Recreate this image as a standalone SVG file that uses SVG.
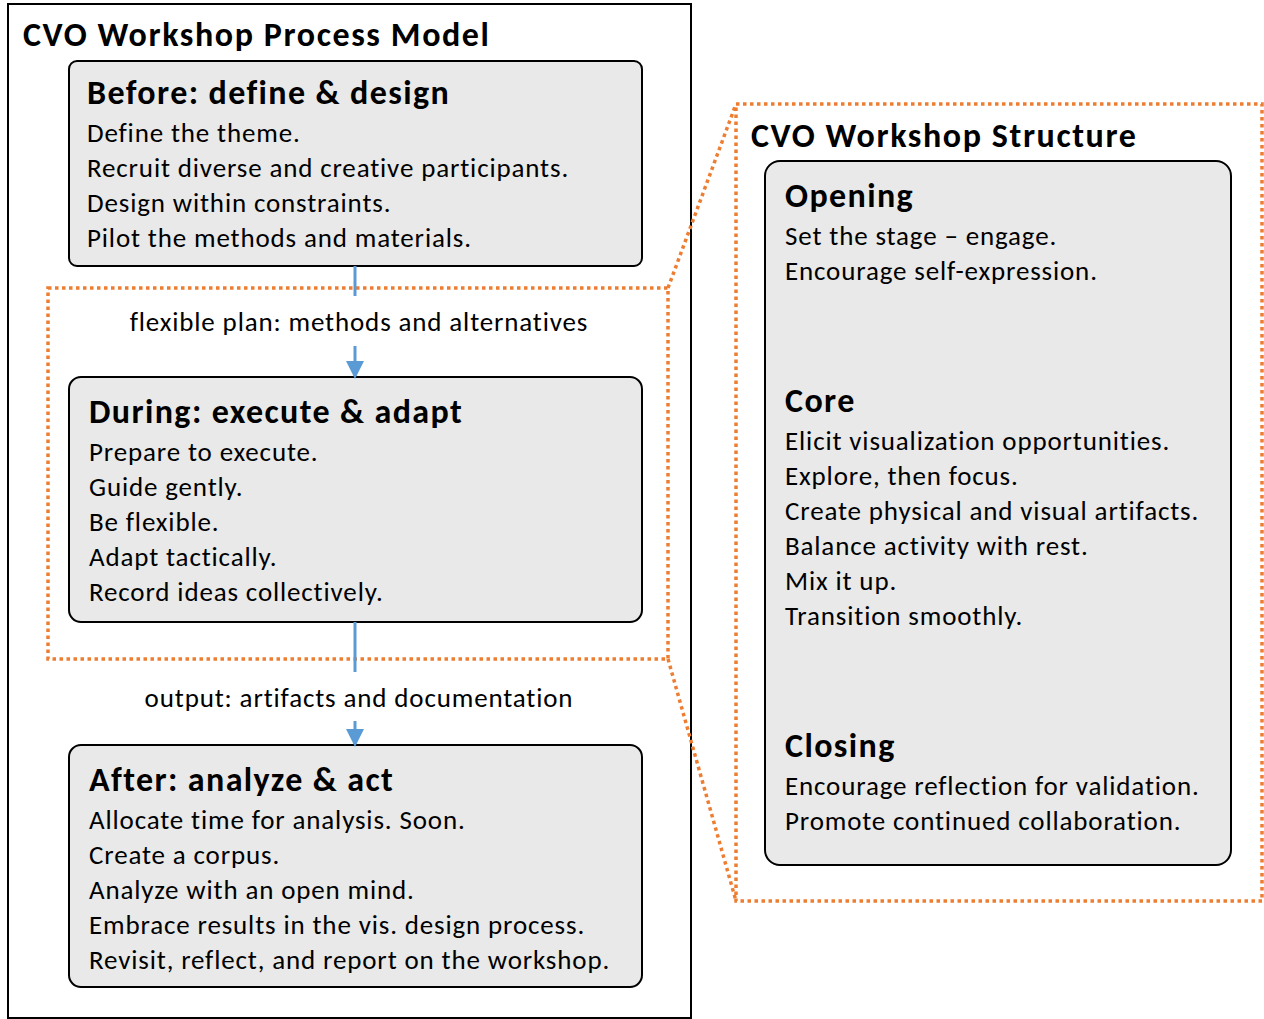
<svg xmlns="http://www.w3.org/2000/svg" width="1264" height="1019" viewBox="0 0 1264 1019">
<defs>
<style>
text{font-family:Carlito,Lato,"Open Sans",sans-serif;fill:#000}
.t{font-size:34px;font-weight:bold;letter-spacing:1.6px}
.h{font-size:34px;font-weight:bold;letter-spacing:1.4px}
.b{font-size:27px;letter-spacing:0.85px}
.l{font-size:27px;letter-spacing:0.85px;text-anchor:middle}
.box{fill:#e9e9e9;stroke:#000;stroke-width:2}
.dot{fill:none;stroke:#ed7d31;stroke-width:3.5;stroke-dasharray:3.5 3.5}
.con{stroke:#5b9bd5;stroke-width:3;fill:none}
</style>
<marker id="ah" markerWidth="6" markerHeight="6" refX="5" refY="3" orient="auto" markerUnits="strokeWidth"><path d="M0,0 L6,3 L0,6 z" fill="#5b9bd5"/></marker>
</defs>
<rect width="1264" height="1019" fill="#fff"/>
<g id="process-model">
<rect x="8" y="4" width="683" height="1014" fill="none" stroke="#000" stroke-width="2"/>
<text class="t" x="23" y="46">CVO Workshop Process Model</text>
</g>
<g id="before">
<rect class="box" x="69" y="61" width="573" height="205" rx="8"/>
<text class="h" x="87" y="104">Before: define &amp; design</text>
<text class="b" x="87" y="142">Define the theme.</text>
<text class="b" x="87" y="177">Recruit diverse and creative participants.</text>
<text class="b" x="87" y="212">Design within constraints.</text>
<text class="b" x="87" y="247">Pilot the methods and materials.</text>
</g>
<g id="during">
<rect class="box" x="69" y="377" width="573" height="245" rx="12"/>
<text class="h" x="89" y="423">During: execute &amp; adapt</text>
<text class="b" x="89" y="461">Prepare to execute.</text>
<text class="b" x="89" y="496">Guide gently.</text>
<text class="b" x="89" y="531">Be flexible.</text>
<text class="b" x="89" y="566">Adapt tactically.</text>
<text class="b" x="89" y="601">Record ideas collectively.</text>
</g>
<g id="after">
<rect class="box" x="69" y="745" width="573" height="242" rx="12"/>
<text class="h" x="89" y="791">After: analyze &amp; act</text>
<text class="b" x="89" y="829">Allocate time for analysis. Soon.</text>
<text class="b" x="89" y="864">Create a corpus.</text>
<text class="b" x="89" y="899">Analyze with an open mind.</text>
<text class="b" x="89" y="934">Embrace results in the vis. design process.</text>
<text class="b" x="89" y="969">Revisit, reflect, and report on the workshop.</text>
</g>
<g id="during-highlight">
<rect class="dot" x="48" y="288" width="620" height="371"/>
</g>
<g id="workshop-structure">
<rect class="dot" x="736" y="104" width="526" height="797"/>
<text class="t" x="751" y="147">CVO Workshop Structure</text>
<rect class="box" x="765" y="161" width="466" height="704" rx="15"/>
<text class="h" x="785" y="207">Opening</text>
<text class="b" x="785" y="245">Set the stage – engage.</text>
<text class="b" x="785" y="280">Encourage self-expression.</text>
<text class="h" x="785" y="412">Core</text>
<text class="b" x="785" y="450">Elicit visualization opportunities.</text>
<text class="b" x="785" y="485">Explore, then focus.</text>
<text class="b" x="785" y="520">Create physical and visual artifacts.</text>
<text class="b" x="785" y="555">Balance activity with rest.</text>
<text class="b" x="785" y="590">Mix it up.</text>
<text class="b" x="785" y="625">Transition smoothly.</text>
<text class="h" x="785" y="757">Closing</text>
<text class="b" x="785" y="795">Encourage reflection for validation.</text>
<text class="b" x="785" y="830">Promote continued collaboration.</text>
</g>
<g id="connectors">
<line class="con" x1="355" y1="266" x2="355" y2="296"/>
<text class="l" x="359" y="331">flexible plan: methods and alternatives</text>
<line class="con" x1="355" y1="346" x2="355" y2="376" marker-end="url(#ah)"/>
<line class="con" x1="355" y1="622" x2="355" y2="672"/>
<text class="l" x="359" y="707">output: artifacts and documentation</text>
<line class="con" x1="355" y1="721" x2="355" y2="744" marker-end="url(#ah)"/>
<line class="dot" x1="668" y1="288" x2="736" y2="104"/>
<line class="dot" x1="668" y1="659" x2="736" y2="901"/>
</g>
</svg>
